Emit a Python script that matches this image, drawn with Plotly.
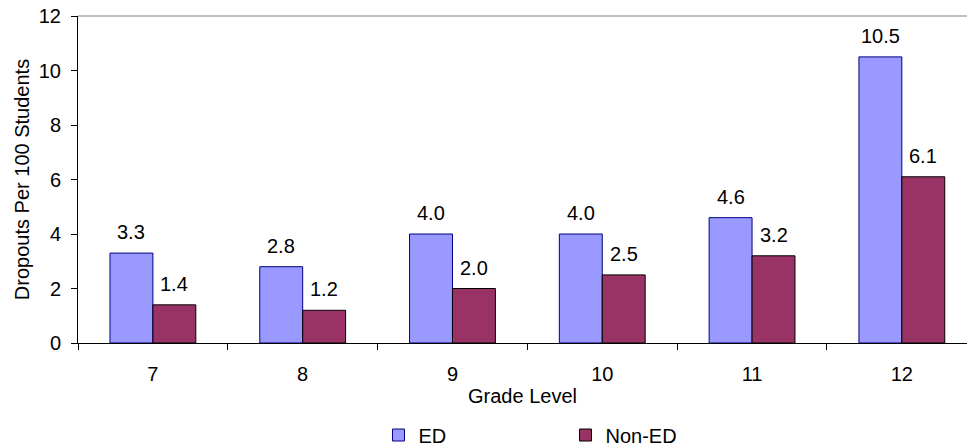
import plotly.graph_objects as go

grades = ["7", "8", "9", "10", "11", "12"]
ed_values = [3.3, 2.8, 4.0, 4.0, 4.6, 10.5]
non_ed_values = [1.4, 1.2, 2.0, 2.5, 3.2, 6.1]
y_ticks = [0, 2, 4, 6, 8, 10, 12]

FONT = "Liberation Sans, Arial, sans-serif"
FS = 20

fig = go.Figure()
fig.add_trace(go.Bar(
    name="ED", x=grades, y=ed_values,
    marker=dict(color="#9999FF", line=dict(color="#000080", width=1)),
))
fig.add_trace(go.Bar(
    name="Non-ED", x=grades, y=non_ed_values,
    marker=dict(color="#993366", line=dict(color="#000000", width=1)),
))

# value labels above each bar (x given as category index)
for vals, shift in ((ed_values, -21.5), (non_ed_values, 21.5)):
    for i, v in enumerate(vals):
        fig.add_annotation(
            x=i, y=v, xref="x", yref="y", text=f"{v:.1f}", showarrow=False,
            xshift=shift, yshift=8, yanchor="bottom", xanchor="center",
            font=dict(family=FONT, size=FS, color="#000000"),
        )

# grey top border of plot area
fig.add_shape(type="line", xref="paper", yref="paper", x0=0, x1=1, y0=1, y1=1,
              line=dict(color="#808080", width=1))

fig.update_layout(
    width=967, height=447,
    margin=dict(l=78, r=0, t=16, b=104),
    paper_bgcolor="white", plot_bgcolor="white",
    font=dict(family=FONT, size=FS, color="#000000"),
    barmode="group", bargap=0.427, bargroupgap=0,
    showlegend=True,
    legend=dict(orientation="h", xref="container", yref="container",
                x=0.3914, xanchor="left", y=0.0268, yanchor="middle",
                font=dict(family=FONT, size=FS), entrywidth=142, entrywidthmode="pixels",
                itemclick=False, bgcolor="rgba(0,0,0,0)"),
    xaxis=dict(
        type="category", range=[-0.5, 5.435],
        showline=True, linecolor="#000000", linewidth=1,
        ticks="outside", tickson="boundaries", ticklen=6, tickcolor="#000000",
        showgrid=False, zeroline=False, ticklabelstandoff=13,
        automargin=False,
        title=dict(text="Grade Level", standoff=4, font=dict(family=FONT, size=FS)),
    ),
    yaxis=dict(
        range=[0, 12], tickvals=y_ticks,
        showline=True, linecolor="#000000", linewidth=1,
        ticks="outside", ticklen=6, tickcolor="#000000",
        showgrid=False, zeroline=False, ticklabelstandoff=6,
        automargin=False,
        title=dict(text="Dropouts Per 100 Students", standoff=3, font=dict(family=FONT, size=FS)),
    ),
)

fig.write_html("out.html", config={"displayModeBar": False},
               post_script="document.body.style.margin='0';")
